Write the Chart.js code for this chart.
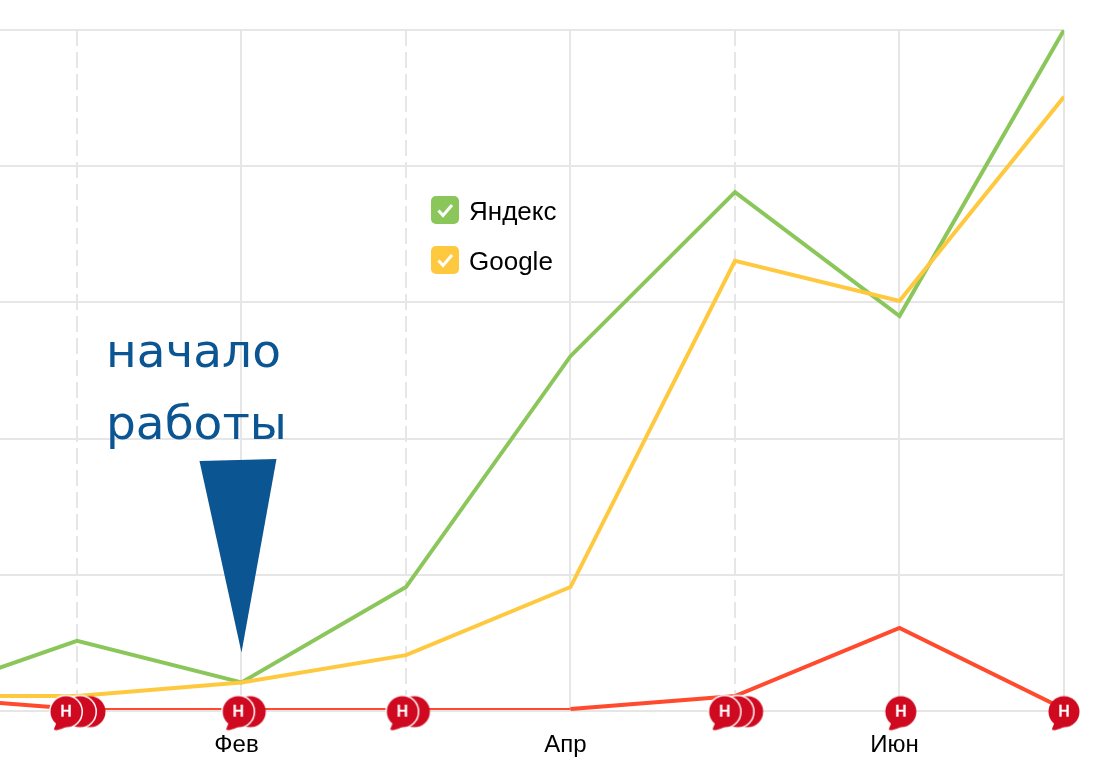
<!DOCTYPE html>
<html>
<head>
<meta charset="utf-8">
<script src="https://cdn.jsdelivr.net/npm/chart.js@4"></script>
<style>
  html, body { margin: 0; padding: 0; background: #fff; overflow: hidden; }
  #wrap { position: relative; width: 1094px; height: 780px; }
  .legend-item { position: absolute; left: 431px; height: 28px; font: 26px "Liberation Sans", sans-serif; line-height: 28px; color: #000; }
  .legend-item svg { position: absolute; left: 0; top: 0; }
  .legend-item span { position: absolute; left: 38px; top: 1px; white-space: nowrap; }
</style>
</head>
<body>
<div id="wrap">
  <canvas id="chart" width="1094" height="780"></canvas>
  <div id="legend"></div>
</div>
<script>
// x values are month positions: -1 is the cut off month on the left edge
const monthIndex = [-1, 0, 1, 2, 3, 4, 5, 6];
const tickLabels = ['', 'Фев', '', 'Апр', '', 'Июн', ''];
const yTicks = [0, 20, 40, 60, 80, 100];

const yandexValues = [1.9, 10.3, 4.2, 18.2, 52.1, 76.2, 58, 100];
const googleValues = [2.2, 2.2, 4.2, 8.2, 18.2, 66.1, 60.2, 90.2];
const otherValues = [2.2, 0.3, 0.3, 0.3, 0.3, 2.2, 12.2, 0.3];

// news markers, back ones first
const newsX = [0.079, 0.018, -0.067, 1.053, 0.98, 2.051, 1.978, 4.077, 4.016, 3.937, 5.008, 6.0];
const newsY = [-0.1, -0.1, -0.1, -0.1, -0.1, -0.1, -0.1, -0.1, -0.1, -0.1, -0.1, -0.1];

const GREEN = '#8bc65a';
const YELLOW = '#ffc93f';
const RED = '#ff4a2e';
const NEWS_RED = '#cf0a20';
const BLUE = '#0b5592';
const GRID = '#e6e6e6';

function bubbleIcon(ring, tail) {
  const c = document.createElement('canvas');
  c.width = 60;
  c.height = 60;
  const g = c.getContext('2d');
  if (ring) {
    g.strokeStyle = '#fff';
    g.lineWidth = 3;
    g.beginPath();
    g.arc(30, 30, 15.5, 0, Math.PI * 2);
    g.stroke();
  }
  g.fillStyle = NEWS_RED;
  g.beginPath();
  g.arc(30, 30, 15.5, 0, Math.PI * 2);
  g.fill();
  if (tail) {
    g.beginPath();
    g.moveTo(21, 40);
    g.lineTo(18, 47);
    g.quadraticCurveTo(18, 49, 21, 48.5);
    g.quadraticCurveTo(27, 47, 33, 44);
    g.closePath();
    g.fill();
    g.fillStyle = '#fff';
    g.font = 'bold 16px "Liberation Sans", sans-serif';
    g.textAlign = 'center';
    g.textBaseline = 'middle';
    g.fillText('Н', 30, 30.5);
  }
  return c;
}

function toPoints(values) {
  return values.map((v, i) => ({ x: monthIndex[i], y: v }));
}

// markers closer than this overlap each other
const STACK_GAP = 0.15;

function newsIcon(i) {
  const hasAbove = i < newsX.length - 1 && Math.abs(newsX[i + 1] - newsX[i]) < STACK_GAP;
  const hasBelow = i > 0 && Math.abs(newsX[i - 1] - newsX[i]) < STACK_GAP;
  return bubbleIcon(hasBelow, !hasAbove);
}

// arrow and caption pointing at the start of the work
const startNote = {
  id: 'startNote',
  afterDatasetsDraw(chart) {
    const ctx = chart.ctx;
    const tipX = chart.scales.x.getPixelForValue(1);
    const tipY = chart.scales.y.getPixelForValue(8.6);
    ctx.save();
    ctx.fillStyle = BLUE;
    ctx.beginPath();
    ctx.moveTo(tipX - 42, 461);
    ctx.lineTo(tipX + 35, 459);
    ctx.lineTo(tipX, tipY);
    ctx.closePath();
    ctx.fill();
    ctx.font = '47px "DejaVu Sans", sans-serif';
    ctx.textAlign = 'left';
    ctx.fillText('начало', 106, 367);
    ctx.fillText('работы', 106, 439);
    ctx.restore();
  }
};

new Chart(document.getElementById('chart'), {
  type: 'line',
  data: {
    datasets: [
      {
        label: 'Новости',
        data: newsX.map((x, i) => ({ x: x, y: newsY[i] })),
        showLine: false,
        pointStyle: newsX.map((x, i) => newsIcon(i)),
        pointRadius: 15,
        clip: false
      },
      {
        label: 'Google',
        data: toPoints(googleValues),
        borderColor: YELLOW,
        borderWidth: 4,
        pointRadius: 0,
        tension: 0
      },
      {
        label: 'Яндекс',
        data: toPoints(yandexValues),
        borderColor: GREEN,
        borderWidth: 4,
        pointRadius: 0,
        tension: 0
      },
      {
        label: 'Другие',
        data: toPoints(otherValues),
        borderColor: RED,
        borderWidth: 4,
        pointRadius: 0,
        tension: 0,
        segment: {
          borderWidth: c => (c.p0.parsed.y === c.p1.parsed.y ? 2 : 4)
        }
      }
    ]
  },
  options: {
    responsive: false,
    animation: false,
    layout: { autoPadding: false, padding: { top: 30, right: 30, left: 0, bottom: 0 } },
    plugins: {
      legend: { display: false },
      tooltip: { enabled: false }
    },
    scales: {
      x: {
        type: 'linear',
        min: -0.468,
        max: 6,
        afterBuildTicks: axis => {
          axis.ticks = tickLabels.map((t, i) => ({ value: i }));
        },
        afterFit: axis => {
          axis.height = 69;
          axis.paddingLeft = 0;
          axis.paddingRight = 0;
        },
        ticks: {
          autoSkip: false,
          maxRotation: 0,
          color: '#000',
          padding: 20,
          labelOffset: -5,
          font: { family: '"Liberation Sans", sans-serif', size: 24 },
          callback: (value, i) => tickLabels[i]
        },
        grid: { color: GRID, lineWidth: 2, drawTicks: false },
        border: {
          display: false,
          dash: c => (c.tick && c.tick.value % 2 === 0 && c.tick.value < 6 ? [16, 6] : [])
        }
      },
      y: {
        min: 0,
        max: 100,
        afterBuildTicks: axis => {
          axis.ticks = yTicks.map(v => ({ value: v }));
        },
        afterFit: axis => {
          axis.width = 0;
        },
        ticks: { display: false },
        grid: { color: GRID, lineWidth: 2, drawTicks: false },
        border: { display: false }
      }
    }
  },
  plugins: [startNote]
});

// legend
const legendItems = [
  { label: 'Яндекс', color: GREEN },
  { label: 'Google', color: YELLOW }
];
const legendTops = [196, 246];
document.getElementById('legend').innerHTML = legendItems.map((item, i) => `
  <div class="legend-item" style="top:${legendTops[i]}px">
    <svg width="28" height="28"><rect width="28" height="28" rx="5" fill="${item.color}"/><path d="M7.5 14.5l4.5 5 9-10.5" fill="none" stroke="#fff" stroke-width="3"/></svg>
    <span>${item.label}</span>
  </div>`).join('');
</script>
</body>
</html>
